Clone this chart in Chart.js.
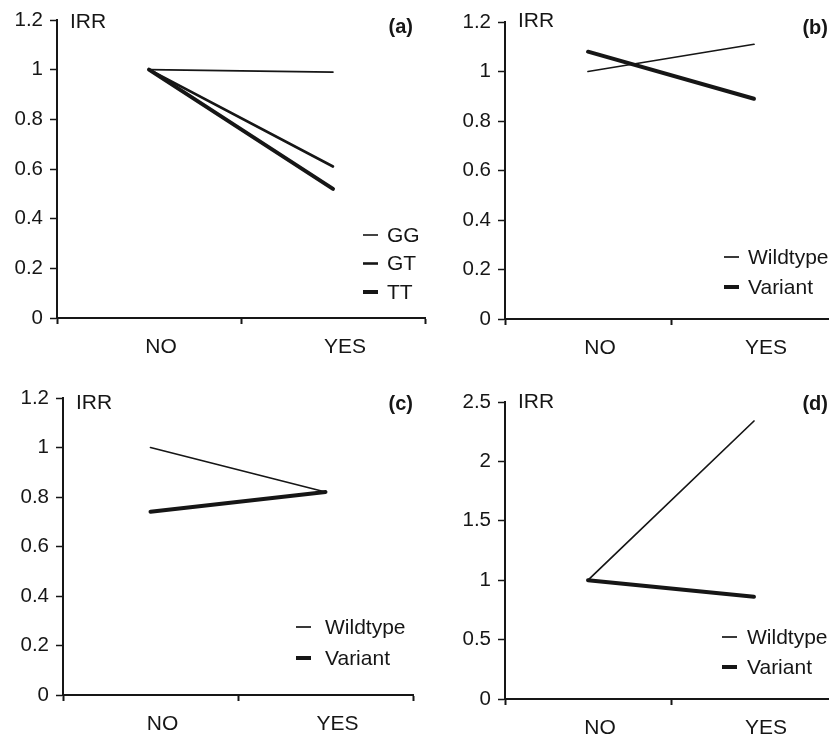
<!DOCTYPE html>
<html>
<head>
<meta charset="utf-8">
<script src="https://cdn.jsdelivr.net/npm/chart.js@4"></script>
<style>
  html, body { margin: 0; padding: 0; background: #fff; overflow: hidden; }
  body { width: 829px; height: 735px; position: relative; }
  .panel { position: absolute; }
</style>
</head>
<body>
<div class="panel" style="left:0;top:0"><canvas id="chartA" width="440" height="360"></canvas></div>
<div class="panel" style="left:415px;top:0"><canvas id="chartB" width="422" height="360"></canvas></div>
<div class="panel" style="left:0;top:360px"><canvas id="chartC" width="430" height="375"></canvas></div>
<div class="panel" style="left:415px;top:360px"><canvas id="chartD" width="422" height="375"></canvas></div>
<script>
const categories = ['NO', 'YES'];

// (a)
const aGG = [1.0, 0.99];
const aGT = [1.0, 0.61];
const aTT = [1.0, 0.52];
// (b)
const bWildtype = [1.0, 1.11];
const bVariant = [1.08, 0.89];
// (c)
const cWildtype = [1.0, 0.82];
const cVariant = [0.74, 0.82];
// (d)
const dWildtype = [1.0, 2.34];
const dVariant = [1.0, 0.86];

const yMaxSmall = 1.2;
const yStepSmall = 0.2;
const yMaxD = 2.5;
const yStepD = 0.5;

const ink = '#161616';
const fontFamily = '"Liberation Sans", Arial, Helvetica, sans-serif';

// draws the "IRR" label, the panel letter and the little legend
const panelText = {
  id: 'panelText',
  afterDraw(chart, args, opts) {
    const ctx = chart.ctx;
    const area = chart.chartArea;
    ctx.save();
    ctx.fillStyle = ink;
    ctx.textBaseline = 'middle';
    ctx.font = '21px ' + fontFamily;
    ctx.textAlign = 'left';
    ctx.fillText('IRR', area.left + 13, opts.irrY);
    ctx.font = 'bold 20px ' + fontFamily;
    ctx.textAlign = 'right';
    ctx.fillText(opts.tag, opts.tagX, opts.tagY);

    ctx.font = '21px ' + fontFamily;
    ctx.textAlign = 'left';
    chart.data.datasets.forEach((ds, i) => {
      const y = opts.legendY + i * opts.legendGap;
      ctx.strokeStyle = ds.borderColor;
      ctx.lineWidth = ds.borderWidth;
      ctx.beginPath();
      ctx.moveTo(opts.legendX, y);
      ctx.lineTo(opts.legendX + 15, y);
      ctx.stroke();
      ctx.fillText(ds.label, opts.legendX + opts.textDx, y + 1);
    });
    ctx.restore();
  }
};

function makeChart(id, datasets, p) {
  return new Chart(document.getElementById(id), {
    type: 'line',
    data: { labels: categories, datasets: datasets },
    plugins: [panelText],
    options: {
      responsive: false,
      animation: false,
      layout: { padding: { top: p.padTop, right: p.padRight, left: 0, bottom: 0 } },
      elements: {
        point: { radius: 0 },
        line: { tension: 0, borderColor: ink, borderCapStyle: 'round' },
      },
      plugins: {
        legend: { display: false },
        tooltip: { enabled: false },
        panelText: p.text,
      },
      scales: {
        x: {
          type: 'category',
          offset: true,
          afterFit: (scale) => { scale.height = p.xHeight; },
          grid: {
            offset: true,
            drawOnChartArea: false,
            drawTicks: true,
            tickLength: 6,
            tickWidth: 2,
            tickColor: ink,
          },
          border: { display: true, color: ink, width: 2 },
          ticks: {
            color: ink,
            padding: 11,
            labelOffset: 12,
            font: { family: fontFamily, size: 21 },
          },
        },
        y: {
          min: 0,
          max: p.yMax,
          afterFit: (scale) => { scale.width = p.yWidth; },
          grid: {
            drawOnChartArea: false,
            drawTicks: true,
            tickLength: 7,
            tickWidth: 1.5,
            tickColor: ink,
          },
          border: { display: true, color: ink, width: 2 },
          ticks: {
            stepSize: p.yStep,
            color: ink,
            padding: 7,
            font: { family: fontFamily, size: 20.5 },
            callback: (v) => String(+v.toFixed(1)),
          },
        },
      },
    },
  });
}

makeChart('chartA', [
  { label: 'GG', data: aGG, borderColor: ink, borderWidth: 1.6 },
  { label: 'GT', data: aGT, borderColor: ink, borderWidth: 2.6 },
  { label: 'TT', data: aTT, borderColor: ink, borderWidth: 4 },
], {
  padTop: 20, padRight: 15, xHeight: 42, yWidth: 57, yMax: yMaxSmall, yStep: yStepSmall,
  text: { tag: '(a)', tagX: 413, tagY: 27, irrY: 22, legendX: 363, legendY: 235, legendGap: 28.5, textDx: 24 },
});

makeChart('chartB', [
  { label: 'Wildtype', data: bWildtype, borderColor: ink, borderWidth: 1.7 },
  { label: 'Variant', data: bVariant, borderColor: ink, borderWidth: 4 },
], {
  padTop: 22, padRight: 0, xHeight: 41, yWidth: 90, yMax: yMaxSmall, yStep: yStepSmall,
  text: { tag: '(b)', tagX: 413, tagY: 28, irrY: 21, legendX: 309, legendY: 257, legendGap: 30, textDx: 24 },
});

makeChart('chartC', [
  { label: 'Wildtype', data: cWildtype, borderColor: ink, borderWidth: 1.7 },
  { label: 'Variant', data: cVariant, borderColor: ink, borderWidth: 4 },
], {
  padTop: 38, padRight: 17, xHeight: 40, yWidth: 63, yMax: yMaxSmall, yStep: yStepSmall,
  text: { tag: '(c)', tagX: 413, tagY: 44, irrY: 43, legendX: 296, legendY: 267, legendGap: 31, textDx: 29 },
});

makeChart('chartD', [
  { label: 'Wildtype', data: dWildtype, borderColor: ink, borderWidth: 1.7 },
  { label: 'Variant', data: dVariant, borderColor: ink, borderWidth: 4 },
], {
  padTop: 42, padRight: 0, xHeight: 36, yWidth: 90, yMax: yMaxD, yStep: yStepD,
  text: { tag: '(d)', tagX: 413, tagY: 44, irrY: 42, legendX: 307, legendY: 277, legendGap: 30, textDx: 25 },
});
</script>
</body>
</html>
